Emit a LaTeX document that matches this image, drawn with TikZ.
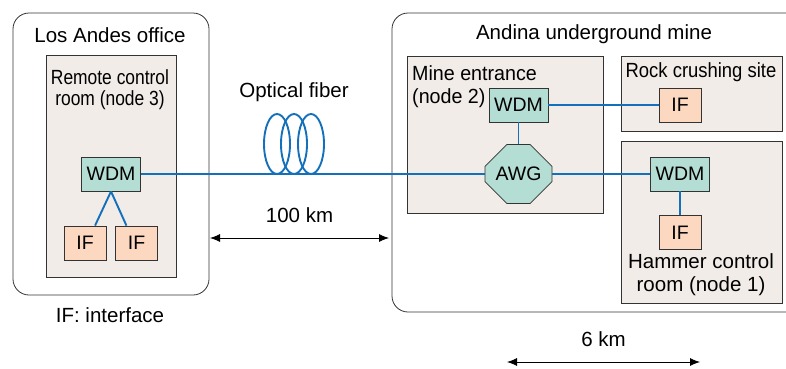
\documentclass[tikz,border=0pt]{standalone}
\usepackage{fontspec}
\setmainfont{Liberation Sans}
\usetikzlibrary{shapes.misc, arrows.meta}

\definecolor{fiberblue}{RGB}{20,112,186}
\definecolor{roomfill}{RGB}{241,236,232}
\definecolor{wdmfill}{RGB}{180,221,211}
\definecolor{iffill}{RGB}{252,216,192}

\begin{document}
\begin{tikzpicture}[x=1pt, y=-1pt,
    every node/.style={font=\fontsize{20.5}{23}\selectfont},
    site/.style={draw=black!80, line width=0.8pt, rounded corners=16pt},
    room/.style={draw=black!80, fill=roomfill, line width=0.8pt},
    wdm/.style={draw=black!80, fill=wdmfill, line width=0.8pt, minimum width=59pt, minimum height=34pt, inner sep=0pt, font=\fontsize{19.5}{23}\selectfont},
    ifbox/.style={draw=black!80, fill=iffill, line width=0.8pt, minimum width=42pt, minimum height=34pt, inner sep=0pt, font=\fontsize{19.5}{23}\selectfont},
    awg/.style={chamfered rectangle, chamfered rectangle sep=15pt, draw=black!80, fill=wdmfill, line width=0.8pt, minimum width=67pt, minimum height=59pt, inner sep=0pt, font=\fontsize{19.5}{23}\selectfont},
    fiber/.style={fiberblue, line width=1.9pt},
    dist/.style={{Latex[length=10pt,width=8pt]}-{Latex[length=10pt,width=8pt]}, line width=0.8pt}]

    \useasboundingbox (0,0) rectangle (786,368);
    \clip (0,0) rectangle (786,368);

    % the two sites
    \draw[site] (13,13) rectangle (209,295);
    \draw[site] (392,13) rectangle (830,312);
    \node (andes) at (110,35) {Los Andes office};
    \node (andina) at (594,34) {Andina underground mine};

    % rooms
    \draw[room] (46,55) rectangle (176,277);
    \draw[room] (407,56) rectangle (603,213);
    \draw[room] (621,56) rectangle (782,131);
    \draw[room] (621,141) rectangle (782,303);
    \node[align=center, font=\fontsize{20.5}{21}\selectfont] (remote) at (110,90)
        {\scalebox{0.85}[1]{Remote control}\\\scalebox{0.85}[1]{room (node 3)}};
    \node[align=left, anchor=north west, inner sep=0pt] (entrance) at (412,65)
        {\scalebox{0.96}[1]{Mine entrance}\\\scalebox{0.96}[1]{(node 2)}};
    \node (rock) at (701,72) {\scalebox{0.9}[1]{Rock crushing site}};
    \node[align=center] (hammer) at (701,275) {Hammer control\\room (node 1)};

    % equipment
    \node[wdm] (lwdm) at (111,174) {WDM};
    \node[ifbox] (lif1) at (85,243) {IF};
    \node[ifbox] (lif2) at (136.5,243) {IF};
    \node[wdm] (mwdm) at (518.5,105) {WDM};
    \node[awg] (awg) at (518.5,174) {AWG};
    \node[ifbox] (rif) at (680,105) {IF};
    \node[wdm] (hwdm) at (680,174) {WDM};
    \node[ifbox] (hif) at (680,232.5) {IF};

    % fiber links
    \draw[fiber] (lwdm.east) -- (awg.west);
    \draw[fiber] (lwdm.south) -- (lif1.60);
    \draw[fiber] (lwdm.south) -- (lif2.120);
    \draw[fiber] (mwdm.south) -- (awg.north);
    \draw[fiber] (mwdm.east) -- (rif.west);
    \draw[fiber] (awg.east) -- (hwdm.west);
    \draw[fiber] (hwdm.south) -- (hif.north);
    \foreach \cx in {277,294,311}
        \draw[fiber] (\cx,144) ellipse [x radius=13, y radius=30];
    \node (fiberlbl) at (294,92) {Optical fiber};

    % distances
    \coordinate (a1) at (210,238);
    \coordinate (a2) at (389,238);
    \draw[dist] (a1) -- (a2) node[midway, above=12pt] (long) {100 km};
    \coordinate (b1) at (507,362);
    \coordinate (b2) at (700,362);
    \draw[dist] (b1) -- (b2) node[midway, above=12pt] (short) {6 km};

    \node (legend) at (110,315) {IF: interface};
\end{tikzpicture}
\end{document}
